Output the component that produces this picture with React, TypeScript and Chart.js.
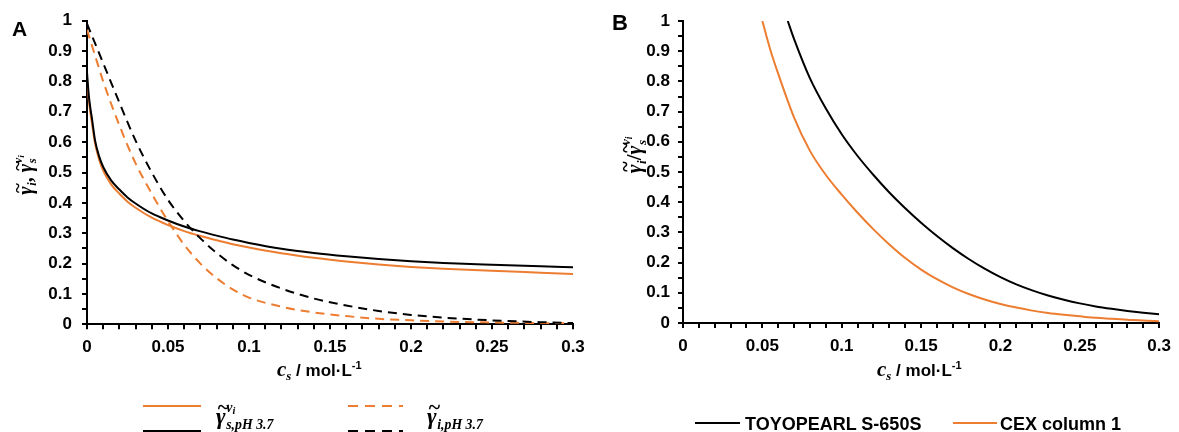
import React, { useEffect, useRef } from "react";
import { Chart, registerables } from "chart.js";

Chart.register(...registerables);

const ORANGE = "#ED7D31";
const BLACK = "#000000";
const SANS = "'Liberation Sans', Arial, sans-serif";
const SERIF = "'Liberation Serif', 'DejaVu Serif', serif";

// ---- Panel A: activity terms at pH 3.7 ----
// salt term (solid lines)
const saltX = [0, 0.001, 0.002, 0.003, 0.005, 0.0075, 0.01, 0.015, 0.02, 0.025, 0.03, 0.04, 0.05, 0.06, 0.07, 0.08, 0.09, 0.1, 0.12, 0.14, 0.16, 0.18, 0.2, 0.22, 0.25, 0.28, 0.3];
const saltToyopearl = [0.83, 0.76, 0.715, 0.68, 0.605, 0.553, 0.518, 0.473, 0.444, 0.418, 0.398, 0.365, 0.342, 0.322, 0.306, 0.292, 0.279, 0.268, 0.249, 0.235, 0.224, 0.215, 0.208, 0.202, 0.196, 0.191, 0.188];
const saltCex = [0.81, 0.745, 0.7, 0.665, 0.595, 0.542, 0.506, 0.46, 0.43, 0.404, 0.384, 0.351, 0.327, 0.307, 0.291, 0.277, 0.264, 0.253, 0.234, 0.219, 0.207, 0.197, 0.189, 0.183, 0.176, 0.17, 0.166];
// protein term (dashed lines)
const proteinX = [0, 0.005, 0.01, 0.02, 0.03, 0.04, 0.05, 0.06, 0.07, 0.08, 0.09, 0.1, 0.12, 0.14, 0.16, 0.18, 0.2, 0.22, 0.25, 0.28, 0.3];
const proteinToyopearl = [0.99, 0.925, 0.86, 0.73, 0.605, 0.5, 0.41, 0.34, 0.283, 0.235, 0.195, 0.163, 0.118, 0.085, 0.062, 0.044, 0.031, 0.022, 0.013, 0.007, 0.004];
const proteinCex = [0.97, 0.885, 0.8, 0.655, 0.53, 0.43, 0.34, 0.262, 0.2, 0.152, 0.115, 0.088, 0.058, 0.039, 0.027, 0.018, 0.013, 0.009, 0.006, 0.004, 0.003];

// ---- Panel B: ratio of the terms per resin ----
const ratioToyopearlX = [0.066, 0.07, 0.08, 0.09, 0.1, 0.11, 0.12, 0.13, 0.14, 0.15, 0.16, 0.17, 0.18, 0.19, 0.2, 0.21, 0.22, 0.23, 0.24, 0.25, 0.26, 0.27, 0.28, 0.29, 0.3];
const ratioToyopearl = [1.0, 0.94, 0.81, 0.71, 0.625, 0.553, 0.49, 0.432, 0.38, 0.332, 0.288, 0.248, 0.212, 0.18, 0.152, 0.128, 0.108, 0.091, 0.077, 0.065, 0.055, 0.047, 0.04, 0.034, 0.029];
const ratioCexX = [0.05, 0.055, 0.06, 0.07, 0.08, 0.09, 0.1, 0.11, 0.12, 0.13, 0.14, 0.15, 0.16, 0.17, 0.18, 0.19, 0.2, 0.21, 0.22, 0.23, 0.24, 0.25, 0.26, 0.27, 0.28, 0.29, 0.3];
const ratioCex = [1.0, 0.905, 0.825, 0.68, 0.57, 0.49, 0.425, 0.365, 0.31, 0.26, 0.215, 0.177, 0.145, 0.118, 0.096, 0.078, 0.063, 0.051, 0.041, 0.033, 0.027, 0.022, 0.017, 0.014, 0.011, 0.008, 0.006];

// tick labels
const xTickLabels = ["0", "0.05", "0.1", "0.15", "0.2", "0.25", "0.3"];
const yTickLabels = ["0", "0.1", "0.2", "0.3", "0.4", "0.5", "0.6", "0.7", "0.8", "0.9", "1"];

// legend entries
const resinNames = ["TOYOPEARL S-650S", "CEX column 1"];

const pts = (xs: number[], ys: number[]) => xs.map((x, i) => ({ x, y: ys[i] }));

function line(xs: number[], ys: number[], color: string, dashed = false) {
  return {
    data: pts(xs, ys),
    borderColor: color,
    borderWidth: 2,
    borderDash: dashed ? [9, 6] : [],
    pointRadius: 0,
    fill: false,
    cubicInterpolationMode: "monotone" as const,
  };
}

type Geom = { yWidth: number; xHeight: number; padRight: number; padTop: number; yPad: number; xPad: number };

function makeChart(canvas: HTMLCanvasElement, datasets: any[], g: Geom) {
  const tickFont = { family: SANS, size: 17, weight: "bold" as const };
  const grid = { drawOnChartArea: false, drawTicks: true, tickLength: 5, color: BLACK, lineWidth: 2, tickWidth: 2 };
  const border = { display: true, color: BLACK, width: 2 };
  return new Chart(canvas, {
    type: "line",
    data: { datasets },
    options: {
      animation: false,
      responsive: false,
      devicePixelRatio: 1,
      events: [],
      layout: { padding: { left: 0, right: g.padRight, top: g.padTop, bottom: 0 } },
      plugins: { legend: { display: false }, tooltip: { enabled: false } },
      scales: {
        x: {
          type: "linear",
          min: 0,
          max: 0.3,
          afterFit: (s: any) => { s.height = g.xHeight; },
          grid,
          border,
          ticks: {
            stepSize: 0.01,
            autoSkip: false,
            maxRotation: 0,
            color: BLACK,
            font: tickFont,
            padding: g.xPad,
            callback: (v: any) => {
              const n = Math.round(Number(v) * 100);
              return n % 5 === 0 ? xTickLabels[n / 5] : "";
            },
          },
        },
        y: {
          type: "linear",
          min: 0,
          max: 1,
          afterFit: (s: any) => { s.width = g.yWidth; },
          grid,
          border,
          ticks: {
            stepSize: 0.05,
            autoSkip: false,
            color: BLACK,
            font: tickFont,
            padding: g.yPad,
            callback: (v: any) => {
              const n = Math.round(Number(v) * 100);
              return n % 10 === 0 ? yTickLabels[n / 10] : "";
            },
          },
        },
      },
    },
  } as any);
}

// text measuring for laying out the math symbols
const measureCtx: CanvasRenderingContext2D | null =
  typeof document !== "undefined" ? document.createElement("canvas").getContext("2d") : null;
function textW(t: string, size: number, italic = true) {
  if (!measureCtx) return t.length * size * 0.5;
  measureCtx.font = `${italic ? "italic " : ""}bold ${size}px ${SERIF}`;
  return measureCtx.measureText(t).width;
}

// γ with tilde and optional stacked sub/superscripts; returns element and width
function gamma(x: number, y: number, S: number, sub?: string, sup?: boolean, key?: string, k = 0.62) {
  const s = k * S;
  const wg = textW("γ", S);
  const sx = x + wg + 0.03 * S;
  const wSub = sub ? textW(sub, s) : 0;
  const wSup = sup ? textW("ν", s) + textW("i", 0.45 * S) : 0;
  const el = (
    <g key={key} fontFamily={SERIF} fontWeight="bold" fontStyle="italic" fill={BLACK}>
      <text x={x} y={y} fontSize={S}>γ</text>
      <text x={x + 0.08 * S} y={y - 0.42 * S} fontSize={0.95 * S} fontStyle="normal">~</text>
      {sub ? <text x={sx} y={y + 0.22 * S} fontSize={s} style={{ whiteSpace: "pre" }}>{sub}</text> : null}
      {sup ? (
        <text x={sx} y={y - 0.52 * S} fontSize={s}>
          ν<tspan fontSize={0.45 * S} dy={0.1 * S}>i</tspan>
        </text>
      ) : null}
    </g>
  );
  return { el, w: wg + 0.03 * S + Math.max(wSub, wSup) };
}

// rotated y-axis title: γ̃_i <sep> γ̃_s^{ν_i}
function YTitle({ cx, cy, base, S, sep }: { cx: number; cy: number; base: number; S: number; sep: string }) {
  const a = gamma(0, 0, S, "i");
  const wSep = textW(sep, S, false) + (sep === "," ? 0.25 * S : 0);
  const b = gamma(0, 0, S, "s", true);
  const total = a.w + wSep + b.w;
  const x0 = cx - total / 2;
  const y0 = cy + base;
  return (
    <g transform={`rotate(-90 ${cx} ${cy})`}>
      {gamma(x0, y0, S, "i", false, "a").el}
      <text x={x0 + a.w} y={y0} fontFamily={SERIF} fontWeight="bold" fontSize={S}>{sep}</text>
      {gamma(x0 + a.w + wSep, y0, S, "s", true, "b").el}
    </g>
  );
}

function XTitle({ x, y }: { x: number; y: number }) {
  return (
    <text x={x} y={y} fill={BLACK} fontWeight="bold" style={{ whiteSpace: "pre" }}>
      <tspan fontFamily={SERIF} fontStyle="italic" fontSize={21}>c</tspan>
      <tspan fontFamily={SERIF} fontStyle="italic" fontSize={13} dy={4}>s</tspan>
      <tspan fontFamily={SANS} fontSize={17} dy={-4}> / mol·L</tspan>
      <tspan fontFamily={SANS} fontSize={11} dy={-7}>-1</tspan>
    </text>
  );
}

export default function App() {
  const refA = useRef<HTMLCanvasElement>(null);
  const refB = useRef<HTMLCanvasElement>(null);

  useEffect(() => {
    const a = makeChart(
      refA.current!,
      [
        line(proteinX, proteinToyopearl, BLACK, true),
        line(proteinX, proteinCex, ORANGE, true),
        line(saltX, saltToyopearl, BLACK),
        line(saltX, saltCex, ORANGE),
      ],
      { yWidth: 87, xHeight: 107.7, padRight: 27, padTop: 20.7, yPad: 10, xPad: 8 }
    );
    const b = makeChart(
      refB.current!,
      [line(ratioToyopearlX, ratioToyopearl, BLACK), line(ratioCexX, ratioCex, ORANGE)],
      { yWidth: 83, xHeight: 109, padRight: 14, padTop: 21, yPad: 8, xPad: 8 }
    );
    return () => {
      a.destroy();
      b.destroy();
    };
  }, []);

  const legA1 = gamma(216, 424, 23, "s,pH 3.7", true, "la1", 0.6);
  const legA2 = gamma(427, 424, 23, "i,pH 3.7", false, "la2", 0.6);

  return (
    <div style={{ position: "absolute", left: 0, top: 0, width: 1179, height: 432, overflow: "hidden", background: "#fff" }}>
      <canvas ref={refA} width={600} height={432} style={{ position: "absolute", left: 0, top: 0 }} />
      <canvas ref={refB} width={579} height={432} style={{ position: "absolute", left: 600, top: 0 }} />
      <svg width={1179} height={432} style={{ position: "absolute", left: 0, top: 0, pointerEvents: "none" }}>
        {/* panel letters */}
        <text x={12} y={36} fontFamily={SANS} fontWeight="bold" fontSize={21} fill={BLACK}>A</text>
        <text x={612} y={30} fontFamily={SANS} fontWeight="bold" fontSize={22} fill={BLACK}>B</text>

        {/* axis titles */}
        <YTitle cx={27} cy={175} base={5} S={20} sep="," />
        <YTitle cx={637} cy={155} base={4} S={21} sep="/" />
        <XTitle x={277} y={376} />
        <XTitle x={877} y={376} />

        {/* legend, panel A */}
        <line x1={143} y1={406} x2={201} y2={406} stroke={ORANGE} strokeWidth={2} />
        <line x1={143} y1={431} x2={201} y2={431} stroke={BLACK} strokeWidth={2} />
        {legA1.el}
        <line x1={348} y1={406} x2={403} y2={406} stroke={ORANGE} strokeWidth={2} strokeDasharray="10 7" />
        <line x1={348} y1={431} x2={403} y2={431} stroke={BLACK} strokeWidth={2} strokeDasharray="10 7" />
        {legA2.el}

        {/* legend, panel B */}
        <line x1={695} y1={423} x2={740} y2={423} stroke={BLACK} strokeWidth={2} />
        <text x={745} y={430} fontFamily={SANS} fontWeight="bold" fontSize={18} fill={BLACK}>{resinNames[0]}</text>
        <line x1={953} y1={423} x2={997} y2={423} stroke={ORANGE} strokeWidth={2} />
        <text x={1000} y={430} fontFamily={SANS} fontWeight="bold" fontSize={18} fill={BLACK}>{resinNames[1]}</text>
      </svg>
    </div>
  );
}
